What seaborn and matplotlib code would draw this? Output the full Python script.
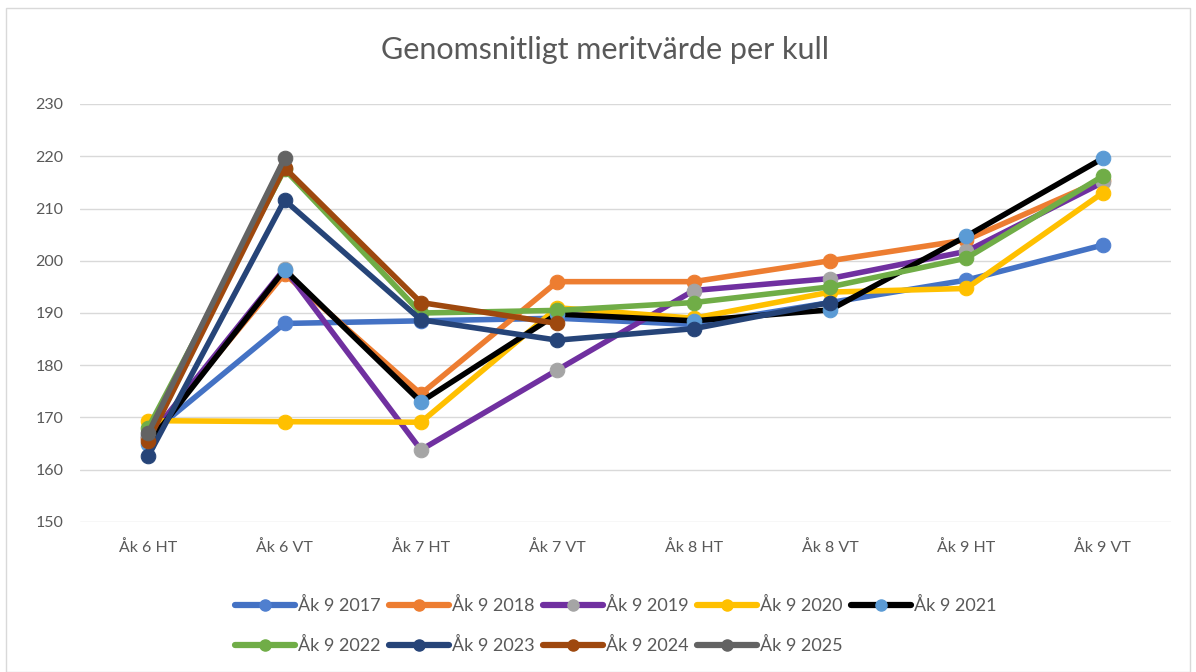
import matplotlib
matplotlib.use("Agg")
import matplotlib.pyplot as plt
import seaborn as sns
import pandas as pd
import numpy as np
from matplotlib.lines import Line2D
from matplotlib.patches import Rectangle

categories = ["Åk 6 HT", "Åk 6 VT", "Åk 7 HT", "Åk 7 VT", "Åk 8 HT", "Åk 8 VT", "Åk 9 HT", "Åk 9 VT"]

s2017 = [166.5, 188.0, 188.5, 189.0, 187.8, 192.0, 196.3, 203.0]
s2018 = [166.0, 197.5, 174.5, 196.0, 196.0, 200.0, 204.0, 215.5]
s2019 = [166.0, 198.5, 163.8, 179.1, 194.3, 196.6, 201.8, 215.0]
s2020 = [169.4, 169.2, 169.1, 191.0, 189.0, 194.0, 194.7, 213.0]
s2021 = [165.0, 198.3, 173.0, 189.8, 188.5, 190.6, 204.7, 219.6]
s2022 = [168.0, 217.5, 190.0, 190.5, 192.0, 195.0, 200.5, 216.2]
s2023 = [162.6, 211.6, 188.7, 184.8, 187.0, 192.0]
s2024 = [165.5, 217.8, 192.0, 188.0]
s2025 = [167.0, 219.6]

series_names = ["Åk 9 2017", "Åk 9 2018", "Åk 9 2019", "Åk 9 2020", "Åk 9 2021",
                "Åk 9 2022", "Åk 9 2023", "Åk 9 2024", "Åk 9 2025"]
series_values = [s2017, s2018, s2019, s2020, s2021, s2022, s2023, s2024, s2025]

line_colors = ["#4472C4", "#ED7D31", "#7030A0", "#FFC000", "#000000",
               "#70AD47", "#264478", "#9E480E", "#636363"]
marker_colors = ["#4F7FCF", "#ED7D31", "#A5A5A5", "#FFC000", "#5B9BD5",
                 "#70AD47", "#264478", "#9E480E", "#636363"]

rows = []
for name, vals in zip(series_names, series_values):
    for cat, v in zip(categories, vals):
        rows.append({"Serie": name, "Kategori": cat, "Värde": v})
df = pd.DataFrame(rows)
df["Kategori"] = pd.Categorical(df["Kategori"], categories=categories, ordered=True)
df["x"] = df["Kategori"].cat.codes

sns.set_theme(style="white")
plt.rcParams["font.family"] = ["Lato", "DejaVu Sans"]

fig = plt.figure(figsize=(11.96, 6.72), dpi=100)
ax = fig.add_axes([80 / 1196, 1 - 522 / 672, (1171 - 80) / 1196, (522 - 104) / 672])

for name, lc, mc in zip(series_names, line_colors, marker_colors):
    sub = df[df["Serie"] == name]
    sns.lineplot(data=sub, x="x", y="Värde", ax=ax, color=lc, linewidth=4.0,
                 marker="o", markersize=10.5, markerfacecolor=mc, markeredgecolor=mc,
                 legend=False, zorder=3)

ax.set_xlim(-0.5, len(categories) - 0.5)
ax.set_ylim(150, 230)
ax.set_yticks(np.arange(150, 231, 10))
ax.set_xticks(range(len(categories)))
ax.set_xticklabels(categories)
ax.set_xlabel("")
ax.set_ylabel("")
ax.grid(axis="y", color="#D9D9D9", linewidth=1.0, zorder=0)
ax.grid(axis="x", visible=False)
for sp in ax.spines.values():
    sp.set_visible(False)
ax.tick_params(axis="both", length=0, labelsize=11.5, labelcolor="#595959")
ax.tick_params(axis="y", pad=12)
ax.tick_params(axis="x", pad=13)

fig.text(605 / 1196, 1 - 50 / 672, "Genomsnitligt meritvärde per kull", ha="center", va="center",
         fontsize=22, color="#595959")

handles = [Line2D([0], [0], color=lc, linewidth=4.5, marker="o", markersize=8,
                  markerfacecolor=mc, markeredgecolor=mc)
           for lc, mc in zip(line_colors, marker_colors)]
order = [0, 5, 1, 6, 2, 7, 3, 8, 4]
leg = fig.legend([handles[i] for i in order], [series_names[i] for i in order],
                 ncol=5, loc="upper left", bbox_to_anchor=(228 / 1196, 1 - 590 / 672),
                 frameon=False, fontsize=13, handlelength=3.3, handletextpad=0.2,
                 columnspacing=0.45, labelspacing=1.25, borderaxespad=0)
for t in leg.get_texts():
    t.set_color("#595959")

fig.patches.append(Rectangle((6 / 1196, 0), 1 - 12 / 1196, 1 - 8 / 672,
                             transform=fig.transFigure, fill=False,
                             edgecolor="#D9D9D9", linewidth=1.0))

fig.savefig("out.png", dpi=100)
